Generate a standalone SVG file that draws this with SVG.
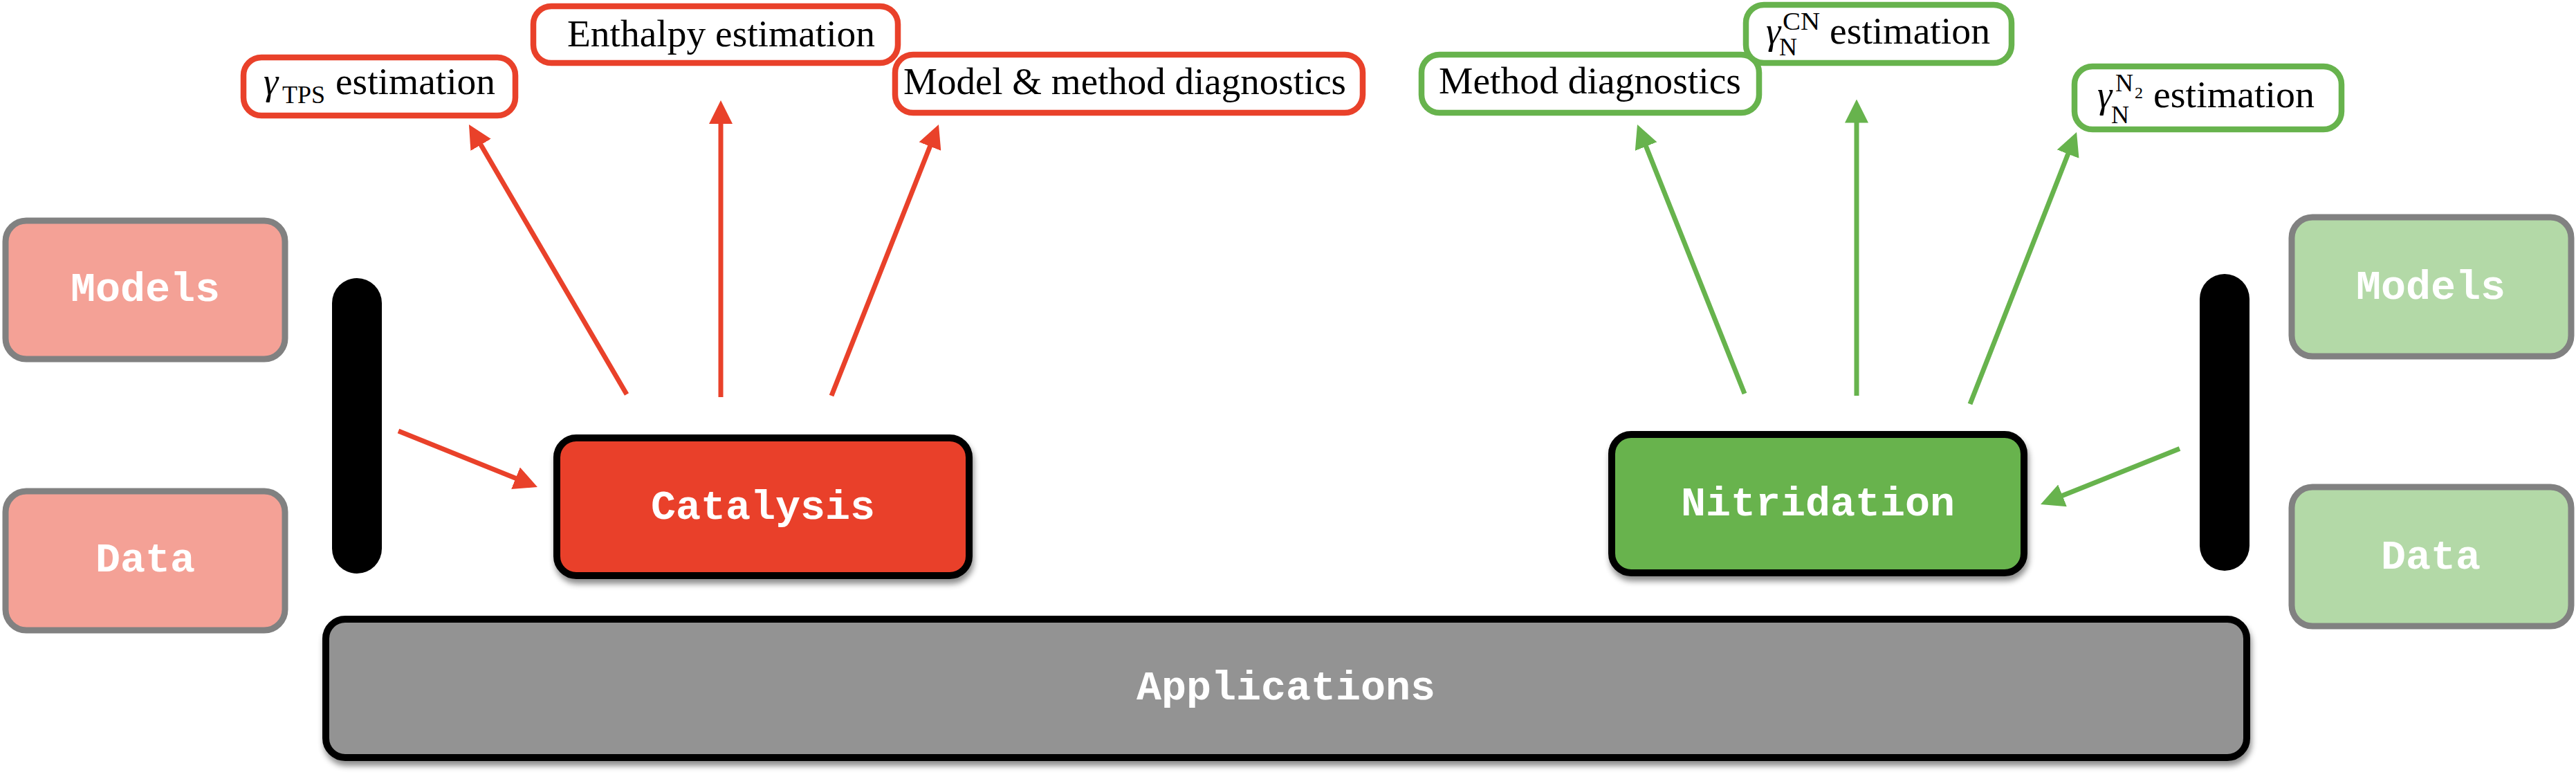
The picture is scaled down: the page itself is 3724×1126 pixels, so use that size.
<svg xmlns="http://www.w3.org/2000/svg" width="3724" height="1126" viewBox="0 0 3724 1126">
<style>
.out-r{fill:#ffffff;stroke:#e9412a;stroke-width:8.5}
.out-g{fill:#ffffff;stroke:#67b34d;stroke-width:8.5}
.src-r{fill:#f4a196;stroke:#818181;stroke-width:9}
.src-g{fill:#b3d9a7;stroke:#818181;stroke-width:9}
.main{stroke:#000000;stroke-width:10}
.bar{fill:#000000}
.mono{font-family:"Liberation Mono","Courier New",monospace;font-weight:bold;font-size:60px;fill:#ffffff;text-anchor:middle}
.serif{font-family:"Liberation Serif","Times New Roman",serif;font-size:54px;fill:#000000}
.sub{font-family:"Liberation Serif","Times New Roman",serif;font-size:36px;fill:#000000}
.sub2{font-family:"Liberation Serif","Times New Roman",serif;font-size:24px;fill:#000000}
.gam{font-family:"Liberation Serif","Times New Roman",serif;font-style:italic;font-size:54px;fill:#000000}
.ar-r{stroke:#e9412a;stroke-width:7;fill:none}
.ar-g{stroke:#67b34d;stroke-width:7;fill:none}
</style>
<defs>
<marker id="ah-r" markerUnits="userSpaceOnUse" markerWidth="34" markerHeight="34" refX="24" refY="17" orient="auto">
<path d="M0,0 L34,17 L0,34 z" fill="#e9412a"/>
</marker>
<marker id="ah-g" markerUnits="userSpaceOnUse" markerWidth="34" markerHeight="34" refX="24" refY="17" orient="auto">
<path d="M0,0 L34,17 L0,34 z" fill="#67b34d"/>
</marker>
<filter id="shadow" x="-5%" y="-10%" width="110%" height="130%">
<feDropShadow dx="2" dy="7" stdDeviation="4" flood-color="#000000" flood-opacity="0.45"/>
</filter>
</defs>

<g id="connectors">
<line class="ar-r" x1="906" y1="570" x2="683" y2="188.6" marker-end="url(#ah-r)"/>
<line class="ar-r" x1="1042" y1="574" x2="1042" y2="155" marker-end="url(#ah-r)"/>
<line class="ar-r" x1="1202" y1="572" x2="1353.3" y2="189.3" marker-end="url(#ah-r)"/>
<line class="ar-r" x1="576" y1="623" x2="767.7" y2="700.3" marker-end="url(#ah-r)"/>
<line class="ar-g" x1="2522" y1="569" x2="2370.7" y2="189.3" marker-end="url(#ah-g)"/>
<line class="ar-g" x1="2684" y1="572" x2="2684" y2="153.5" marker-end="url(#ah-g)"/>
<line class="ar-g" x1="2848" y1="584" x2="2998.4" y2="200.3" marker-end="url(#ah-g)"/>
<line class="ar-g" x1="3151" y1="648.5" x2="2959.3" y2="725.3" marker-end="url(#ah-g)"/>
</g>

<g id="bar-left"><rect class="bar" x="480" y="402" width="72" height="427" rx="36" ry="36"/></g>
<g id="bar-right"><rect class="bar" x="3180" y="396" width="72" height="429" rx="36" ry="36"/></g>

<g id="models-left">
<rect class="src-r" x="8" y="319" width="404" height="200" rx="30"/>
<text class="mono" x="210" y="435">Models</text>
</g>
<g id="data-left">
<rect class="src-r" x="8" y="710" width="404" height="201" rx="30"/>
<text class="mono" x="210" y="826">Data</text>
</g>
<g id="models-right">
<rect class="src-g" x="3313" y="314" width="404" height="201" rx="30"/>
<text class="mono" x="3514" y="432">Models</text>
</g>
<g id="data-right">
<rect class="src-g" x="3313" y="704" width="404" height="201" rx="30"/>
<text class="mono" x="3514" y="822">Data</text>
</g>

<g id="catalysis">
<rect class="main" x="805" y="633" width="596" height="199" rx="28" fill="#e9412a" filter="url(#shadow)"/>
<text class="mono" x="1103" y="750">Catalysis</text>
</g>
<g id="nitridation">
<rect class="main" x="2330" y="628" width="596" height="200" rx="28" fill="#67b34d" filter="url(#shadow)"/>
<text class="mono" x="2628" y="745">Nitridation</text>
</g>
<g id="applications">
<rect class="main" x="471" y="895" width="2777" height="200" rx="28" fill="#939393" filter="url(#shadow)"/>
<text class="mono" x="1859" y="1011">Applications</text>
</g>

<g id="gamma-tps">
<rect class="out-r" x="352" y="83" width="393" height="84" rx="26"/>
<text class="gam" x="381" y="136">γ</text>
<text class="sub" x="408" y="149" textLength="62" lengthAdjust="spacingAndGlyphs">TPS</text>
<text class="serif" x="485" y="136" textLength="231" lengthAdjust="spacingAndGlyphs">estimation</text>
</g>
<g id="enthalpy">
<rect class="out-r" x="771" y="9" width="527" height="82" rx="26"/>
<text class="serif" x="820" y="67" textLength="445" lengthAdjust="spacingAndGlyphs">Enthalpy estimation</text>
</g>
<g id="model-method">
<rect class="out-r" x="1294" y="79" width="676" height="84" rx="26"/>
<text class="serif" x="1306" y="136" textLength="640" lengthAdjust="spacingAndGlyphs">Model &amp; method diagnostics</text>
</g>
<g id="method-diag">
<rect class="out-g" x="2055" y="79" width="488" height="84" rx="26"/>
<text class="serif" x="2080" y="135" textLength="437" lengthAdjust="spacingAndGlyphs">Method diagnostics</text>
</g>
<g id="gamma-cn">
<rect class="out-g" x="2524" y="7" width="384" height="84" rx="26"/>
<text class="gam" x="2553" y="63">γ</text>
<text class="sub" x="2577" y="43" textLength="54" lengthAdjust="spacingAndGlyphs">CN</text>
<text class="sub" x="2572" y="80">N</text>
<text class="serif" x="2645" y="63" textLength="232" lengthAdjust="spacingAndGlyphs">estimation</text>
</g>
<g id="gamma-n2">
<rect class="out-g" x="2999" y="96" width="386" height="91" rx="26"/>
<text class="gam" x="3032" y="155">γ</text>
<text class="sub" x="3058" y="132">N</text>
<text class="sub2" x="3086" y="142">2</text>
<text class="sub" x="3052" y="178">N</text>
<text class="serif" x="3113" y="155" textLength="233" lengthAdjust="spacingAndGlyphs">estimation</text>
</g>
</svg>
